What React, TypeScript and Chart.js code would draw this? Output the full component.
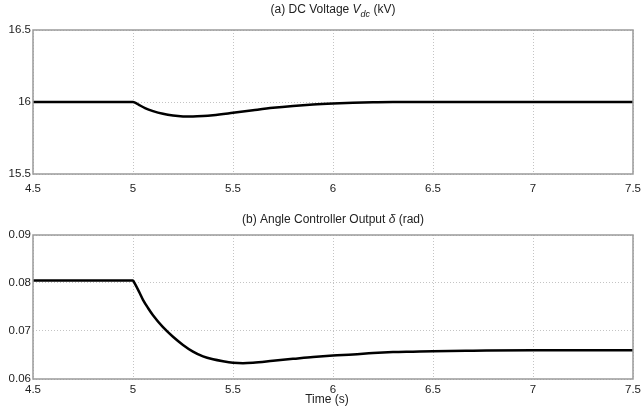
import React, { useEffect, useRef } from "react";
import { Chart, registerables } from "chart.js";

Chart.register(...registerables);

// ---- data ----
const timeA = [4.5, 4.8, 5.0, 5.01, 5.03, 5.06, 5.1, 5.15, 5.2, 5.25, 5.3, 5.35, 5.4, 5.5, 5.6, 5.7, 5.8, 5.9, 6.0, 6.1, 6.2, 6.3, 6.5, 7.0, 7.5];
const vdc = [16.0, 16.0, 16.0, 15.996, 15.98, 15.958, 15.937, 15.918, 15.906, 15.9, 15.899, 15.902, 15.908, 15.925, 15.943, 15.96, 15.973, 15.983, 15.99, 15.995, 15.998, 16.0, 16.0, 16.0, 16.0];

const timeB = [4.5, 4.8, 5.0, 5.01, 5.03, 5.05, 5.075, 5.1, 5.15, 5.2, 5.25, 5.3, 5.35, 5.4, 5.45, 5.5, 5.55, 5.6, 5.7, 5.8, 5.9, 6.0, 6.1, 6.2, 6.3, 6.4, 6.5, 6.7, 7.0, 7.5];
const delta = [0.0805, 0.0805, 0.0805, 0.0798, 0.0782, 0.0765, 0.0748, 0.0733, 0.0708, 0.0688, 0.0671, 0.0657, 0.0647, 0.0641, 0.0637, 0.0634, 0.0633, 0.0634, 0.0638, 0.0642, 0.0646, 0.0649, 0.0651, 0.0654, 0.0656, 0.0657, 0.0658, 0.0659, 0.066, 0.066];

const xTicks = [4.5, 5, 5.5, 6, 6.5, 7, 7.5];
const yTicksA = [15.5, 16, 16.5];
const yTicksB = [0.06, 0.07, 0.08, 0.09];

const FONT = "'Liberation Sans', Arial, sans-serif";
const GRID = "#c4c4c4";
const FRAME = "#9a9a9a";

type Part = { text: string; italic?: boolean; size?: number; dy?: number };

function drawRich(ctx: CanvasRenderingContext2D, parts: Part[], cx: number, cy: number) {
  ctx.save();
  ctx.fillStyle = "#222";
  ctx.textBaseline = "middle";
  ctx.textAlign = "left";
  const fontOf = (p: Part) => `${p.italic ? "italic " : ""}${p.size ?? 12}px ${FONT}`;
  let total = 0;
  for (const p of parts) {
    ctx.font = fontOf(p);
    total += ctx.measureText(p.text).width;
  }
  let x = cx - total / 2;
  for (const p of parts) {
    ctx.font = fontOf(p);
    ctx.fillText(p.text, x, cy + (p.dy ?? 0));
    x += ctx.measureText(p.text).width;
  }
  ctx.restore();
}

function makeChart(
  canvas: HTMLCanvasElement,
  xs: number[],
  ys: number[],
  yMin: number,
  yMax: number,
  yTicks: number[],
  padTop: number,
  xAxisH: number,
  xPad: number,
  title: Part[],
  titleY: number,
  xLabel: string | null
) {
  const framePlugin = {
    id: "frameAndText",
    afterDraw(chart: any) {
      const { ctx, chartArea } = chart;
      ctx.save();
      ctx.strokeStyle = FRAME;
      ctx.lineWidth = 1.5;
      ctx.strokeRect(chartArea.left, chartArea.top, chartArea.right - chartArea.left, chartArea.bottom - chartArea.top);
      ctx.restore();
      const cx = (chartArea.left + chartArea.right) / 2;
      drawRich(ctx, title, cx, titleY);
      if (xLabel) {
        drawRich(ctx, [{ text: xLabel }], cx - 6, chart.height - 13);
      }
    },
  };

  return new Chart(canvas, {
    type: "line",
    data: {
      datasets: [
        {
          data: xs.map((x, i) => ({ x, y: ys[i] })),
          borderColor: "#000",
          borderWidth: 2.5,
          pointRadius: 0,
          cubicInterpolationMode: "monotone",
          fill: false,
        },
      ],
    },
    options: {
      animation: false,
      responsive: false,
      maintainAspectRatio: false,
      layout: { padding: { top: padTop, right: 9, left: 0, bottom: 0 } },
      plugins: {
        legend: { display: false },
        tooltip: { enabled: false },
        title: { display: false },
      },
      scales: {
        x: {
          type: "linear",
          min: 4.5,
          max: 7.5,
          afterBuildTicks: (s: any) => {
            s.ticks = xTicks.map((v) => ({ value: v }));
          },
          afterFit: (s: any) => {
            s.height = xAxisH;
            s.paddingLeft = 0;
            s.paddingRight = 0;
          },
          grid: { color: GRID, lineWidth: 1, drawTicks: false },
          border: { display: false, dash: [1, 2] },
          ticks: {
            padding: xPad,
            color: "#222",
            font: { family: FONT, size: 11.5 },
            maxRotation: 0,
            autoSkip: false,
            callback: (v: any) => String(v),
          },
        },
        y: {
          type: "linear",
          min: yMin,
          max: yMax,
          afterBuildTicks: (s: any) => {
            s.ticks = yTicks.map((v) => ({ value: v }));
          },
          afterFit: (s: any) => {
            s.width = 33;
            s.paddingTop = 0;
            s.paddingBottom = 0;
          },
          grid: { color: GRID, lineWidth: 1, drawTicks: false },
          border: { display: false, dash: [1, 2] },
          ticks: {
            padding: 2,
            color: "#222",
            font: { family: FONT, size: 11.5 },
            autoSkip: false,
            callback: (v: any) => String(v),
          },
        },
      },
    },
    plugins: [framePlugin],
  } as any);
}

export default function App() {
  const refA = useRef<HTMLCanvasElement>(null);
  const refB = useRef<HTMLCanvasElement>(null);

  useEffect(() => {
    const a = makeChart(
      refA.current!,
      timeA,
      vdc,
      15.5,
      16.5,
      yTicksA,
      30,
      26,
      7.5,
      [
        { text: "(a) DC Voltage " },
        { text: "V", italic: true },
        { text: "dc", italic: true, size: 9, dy: 4 },
        { text: " (kV)" },
      ],
      10,
      null
    );
    const b = makeChart(
      refB.current!,
      timeB,
      delta,
      0.06,
      0.09,
      yTicksB,
      35,
      34,
      3.5,
      [{ text: "(b) Angle Controller Output " }, { text: "δ", italic: true }, { text: " (rad)" }],
      19.5,
      "Time (s)"
    );
    return () => {
      a.destroy();
      b.destroy();
    };
  }, []);

  return (
    <div style={{ position: "fixed", left: 0, top: 0, width: 642, height: 413, background: "#fff" }}>
      <canvas ref={refA} width={642} height={200} style={{ position: "absolute", left: 0, top: 0, width: 642, height: 200 }} />
      <canvas ref={refB} width={642} height={213} style={{ position: "absolute", left: 0, top: 200, width: 642, height: 213 }} />
    </div>
  );
}
